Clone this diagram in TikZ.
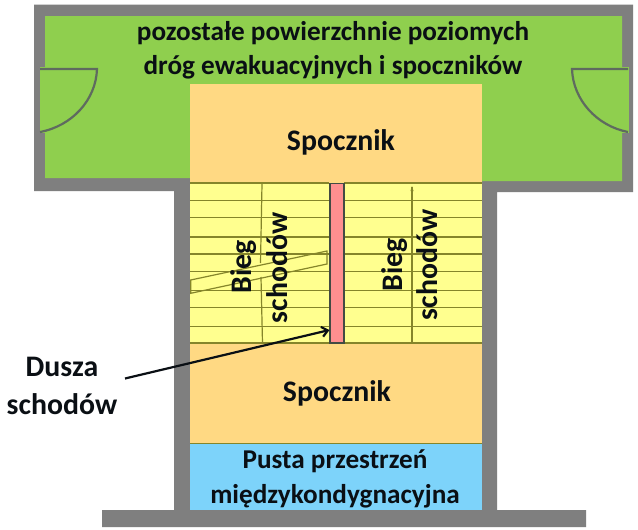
\documentclass[tikz,border=0pt]{standalone}
\usepackage{fontspec}
\setmainfont{Carlito}
\usetikzlibrary{arrows.meta}
\definecolor{wallc}{HTML}{7F7F7F}
\definecolor{greenc}{HTML}{8FCF4E}
\definecolor{landc}{HTML}{FFD983}
\definecolor{stairc}{HTML}{FFFF8F}
\definecolor{soulc}{HTML}{FF8F8F}
\definecolor{bluec}{HTML}{7DD3FA}
\definecolor{linec}{HTML}{85852A}
\definecolor{doorc}{HTML}{5F6B5F}
\definecolor{textc}{HTML}{0A0F14}
\tikzset{
  lbl/.style={text=textc,align=center,inner sep=0pt,font=\fontsize{27.2}{33.5}\selectfont\bfseries},
  biglbl/.style={lbl,font=\fontsize{29.8}{38}\selectfont\bfseries},
  tread/.style={draw=linec,line width=1.2pt},
  doorline/.style={draw=doorc,line width=2.2pt}
}
\begin{document}
\begin{tikzpicture}[x=1pt,y=-1pt]
\useasboundingbox[fill=white] (0,0) rectangle (638,530);
% walls
\fill[wallc] (34,4.5) -- (633,4.5) -- (633,192) -- (497,192) -- (497,510) -- (586,510) -- (586,527) -- (102,527) -- (102,510) -- (174,510) -- (174,191) -- (34,191) -- cycle;
\fill[greenc] (45,16) -- (622,16) -- (622,181) -- (482,181) -- (482,184) -- (190,184) -- (190,178) -- (45,178) -- cycle;
\fill[greenc] (39.5,67) rectangle (46,133);
\fill[greenc] (621,67) rectangle (629,133);
% landings
\fill[landc] (190,84) rectangle (482,183);
\fill[landc] (190,344) rectangle (482,443);
\fill[bluec] (190,444) rectangle (482,510);
\draw[linec,line width=1pt] (190,443.5) -- (482,443.5);
% stairs
\fill[stairc] (190,183) rectangle (329,343);
\fill[stairc] (344,183) rectangle (482,343);
\foreach \yy in {183,200.3,217.3,237,254,271.7,290.3,307.7,326.7,343}{
  \draw[tread] (190,\yy) -- (329,\yy);
  \draw[tread] (344,\yy) -- (482,\yy);
}
\draw[tread] (262,184) -- (260.5,263);
\draw[tread] (261,277) -- (262.5,343);
\draw[tread] (412,187) -- (412,343);
\fill[linec] (412,186) -- (410.5,191) -- (413.5,191) -- cycle;
\draw[tread] (190.7,280) -- (327,251) -- (327,264) -- (190.7,293.3) -- cycle;
\fill[soulc,draw=doorc!70!black,line width=1.2pt] (330,183.5) rectangle (344,343);
% doors
\coordinate (dl1) at (40,69); \coordinate (dl2) at (97,69); \coordinate (dl3) at (40,132);
\coordinate (dr1) at (628,69); \coordinate (dr2) at (572,69); \coordinate (dr3) at (628,132);
\draw[doorline] (dl1) -- (dl2) .. controls (96,100) and (72,126) .. (dl3);
\draw[doorline] (dr1) -- (dr2) .. controls (573,100) and (597,126) .. (dr3);
% labels
\node[lbl] (top) at (333,50.5) {pozostałe powierzchnie poziomych\\dróg ewakuacyjnych i spoczników};
\node[biglbl] (s1) at (341,142) {Spocznik};
\node[biglbl] (s2) at (337,393) {Spocznik};
\node[lbl,font=\fontsize{27.2}{34.5}\selectfont\bfseries] (blue) at (335,479) {Pusta przestrzeń\\międzykondygnacyjna};
\node[biglbl,rotate=90] (b1) at (244,267) {Bieg};
\node[biglbl,rotate=90] (b2) at (277,268) {schodów};
\node[biglbl,rotate=90] (b3) at (395,265) {Bieg};
\node[biglbl,rotate=90] (b4) at (427,265) {schodów};
\node[biglbl] (dusza) at (62,386) {Dusza\\schodów};
\coordinate (soul) at (329.5,330);
\coordinate (ds) at (125,378.5);
\draw[line width=2.2pt,textc,-{Straight Barb[length=6pt,width=10pt]}] (ds) -- (soul);
\end{tikzpicture}
\end{document}
